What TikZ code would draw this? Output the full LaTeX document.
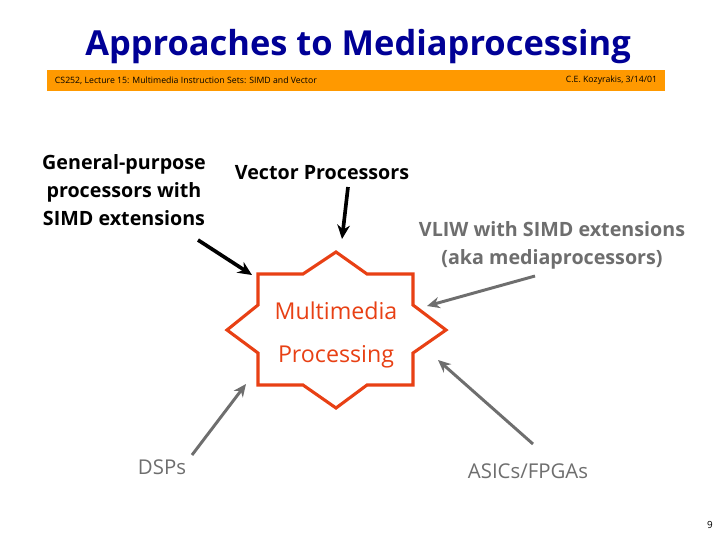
\documentclass[tikz,border=0pt]{standalone}
\usepackage{fontspec}
\setmainfont{Open Sans}
\usetikzlibrary{arrows.meta}

\definecolor{titleblue}{RGB}{0,0,150}
\definecolor{barorange}{RGB}{255,153,0}
\definecolor{starred}{RGB}{232,64,20}
\definecolor{labelgray}{RGB}{110,110,110}

\tikzset{
  blackarrow/.style={line width=2.6pt, -{Stealth[length=10pt,width=9pt]}},
  grayarrow/.style={labelgray, line width=2.1pt, -{Stealth[length=9pt,width=8pt]}},
  boldlabel/.style={font=\fontsize{14}{20}\selectfont\bfseries, align=center},
  plainlabel/.style={labelgray, font=\fontsize{14.5}{17}\selectfont},
}

\begin{document}
\begin{tikzpicture}[x=0.025cm,y=-0.025cm]
  \fill[white] (0,0) rectangle (720,540);
  % title and course bar
  \node[titleblue, font=\fontsize{24.5}{29}\selectfont\bfseries] (title) at (358,47) {Approaches to Mediaprocessing};
  \fill[barorange] (47,70) rectangle (665,91);
  \node[anchor=west, font=\fontsize{6.2}{7}\selectfont] (course) at (50,80.5) {CS252, Lecture 15: Multimedia Instruction Sets: SIMD and Vector};
  \node[anchor=east, font=\fontsize{6.2}{7}\selectfont] (author) at (662,80.5) {C.E. Kozyrakis, 3/14/01};

  % the star
  \draw[starred, line width=2.2pt, line join=miter]
    (336,252) -- (367,274) -- (413,274) -- (413,305) -- (446,330) -- (413,353) -- (413,385)
    -- (367,385) -- (336,408) -- (303,385) -- (258,385) -- (258,353) -- (227,330)
    -- (258,305) -- (258,274) -- (303,274) -- cycle;
  \node[starred, font=\fontsize{16.5}{31}\selectfont, align=center] (media) at (336,335) {Multimedia\\Processing};

  % labels
  \node[boldlabel] (gp) at (124,190) {General-purpose\\processors with\\SIMD extensions};
  \node[boldlabel] (vp) at (322,173) {Vector Processors};
  \node[boldlabel, labelgray] (vliw) at (552,245) {VLIW with SIMD extensions\\(aka mediaprocessors)};
  \node[plainlabel] (dsp) at (162,467) {DSPs};
  \node[plainlabel] (asic) at (528,471) {ASICs/FPGAs};
  \node[font=\fontsize{7}{8}\selectfont] (page) at (710,525) {9};

  % arrow ends
  \coordinate (gptail) at (198,240);
  \coordinate (gptip) at (252,275);
  \coordinate (vptail) at (348,187);
  \coordinate (vptip) at (342,239);
  \coordinate (vliwtail) at (535,276);
  \coordinate (vliwtip) at (427,306);
  \coordinate (dsptail) at (192,455);
  \coordinate (dsptip) at (246,384);
  \coordinate (asictail) at (533,444);
  \coordinate (asictip) at (438,360);

  \draw[blackarrow] (gptail) -- (gptip);
  \draw[blackarrow] (vptail) -- (vptip);
  \draw[grayarrow] (vliwtail) -- (vliwtip);
  \draw[grayarrow] (dsptail) -- (dsptip);
  \draw[grayarrow] (asictail) -- (asictip);
\end{tikzpicture}
\end{document}
